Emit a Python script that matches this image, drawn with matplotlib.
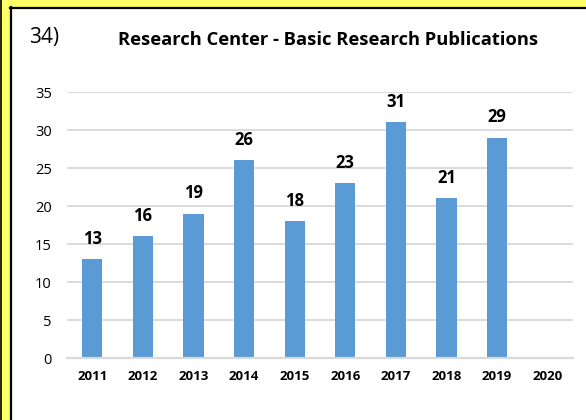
import matplotlib
matplotlib.use("Agg")
import matplotlib.pyplot as plt
from matplotlib.patches import Rectangle
from matplotlib.lines import Line2D

years = ["2011", "2012", "2013", "2014", "2015", "2016", "2017", "2018", "2019", "2020"]
values = [13, 16, 19, 26, 18, 23, 31, 21, 29, None]
yticks = [0, 5, 10, 15, 20, 25, 30, 35]
title = "Research Center - Basic Research Publications"
label_num = "34)"

W, H = 586, 420
fig = plt.figure(figsize=(W / 100, H / 100), dpi=100)
fig.patch.set_facecolor("white")

plt.rcParams["font.family"] = ["Open Sans", "DejaVu Sans"]

fig.patches.append(Rectangle((0, 0), 10 / W, 1, transform=fig.transFigure,
                             facecolor="#FFFF66", edgecolor="none", zorder=0))
fig.patches.append(Rectangle((0, 1 - 7.5 / H), 1, 7.5 / H, transform=fig.transFigure,
                             facecolor="#FFFF66", edgecolor="none", zorder=0))
fig.lines.append(Line2D([10.5 / W, 10.5 / W], [0, 1 - 7 / H], transform=fig.transFigure,
                        color="black", lw=1.6))
fig.lines.append(Line2D([10 / W, 1], [1 - 7.5 / H, 1 - 7.5 / H], transform=fig.transFigure,
                        color="black", lw=1.6))
fig.lines.append(Line2D([0.8 / W, 0.8 / W], [0, 1], transform=fig.transFigure,
                        color="black", lw=1.2))

ax = fig.add_axes([67 / W, 1 - 358 / H, 506 / W, 266 / H])
x = list(range(len(years)))
vals = [v if v is not None else 0 for v in values]
ax.bar(x, vals, width=0.4, color="#5B9BD5", zorder=2)
for xi, v in zip(x, values):
    if v is not None:
        ax.annotate(str(v), (xi, v), xytext=(0, 8), textcoords="offset points",
                    ha="center", va="bottom", fontsize=12, fontweight="bold",
                    color="black")

ax.set_xlim(-0.5, len(years) - 0.5)
ax.set_ylim(0, 35)
ax.set_yticks(yticks)
ax.set_xticks(x)
ax.set_xticklabels(years, fontsize=9.5, fontweight="bold")
ax.tick_params(axis="y", labelsize=10.5, length=0, pad=11)
ax.tick_params(axis="x", length=0, pad=9)
ax.grid(axis="y", color="#D9D9D9", lw=1.3, zorder=0)
for s in ["top", "right", "left"]:
    ax.spines[s].set_visible(False)
ax.spines["bottom"].set_color("#D9D9D9")
ax.spines["bottom"].set_linewidth(1.6)

fig.text(328 / W, 1 - 40 / H, title, ha="center", va="center",
         fontsize=13.2, fontweight="bold")
fig.text(29 / W, 1 - 37 / H, label_num, ha="left", va="center", fontsize=15)

fig.savefig("out.png", dpi=100)
